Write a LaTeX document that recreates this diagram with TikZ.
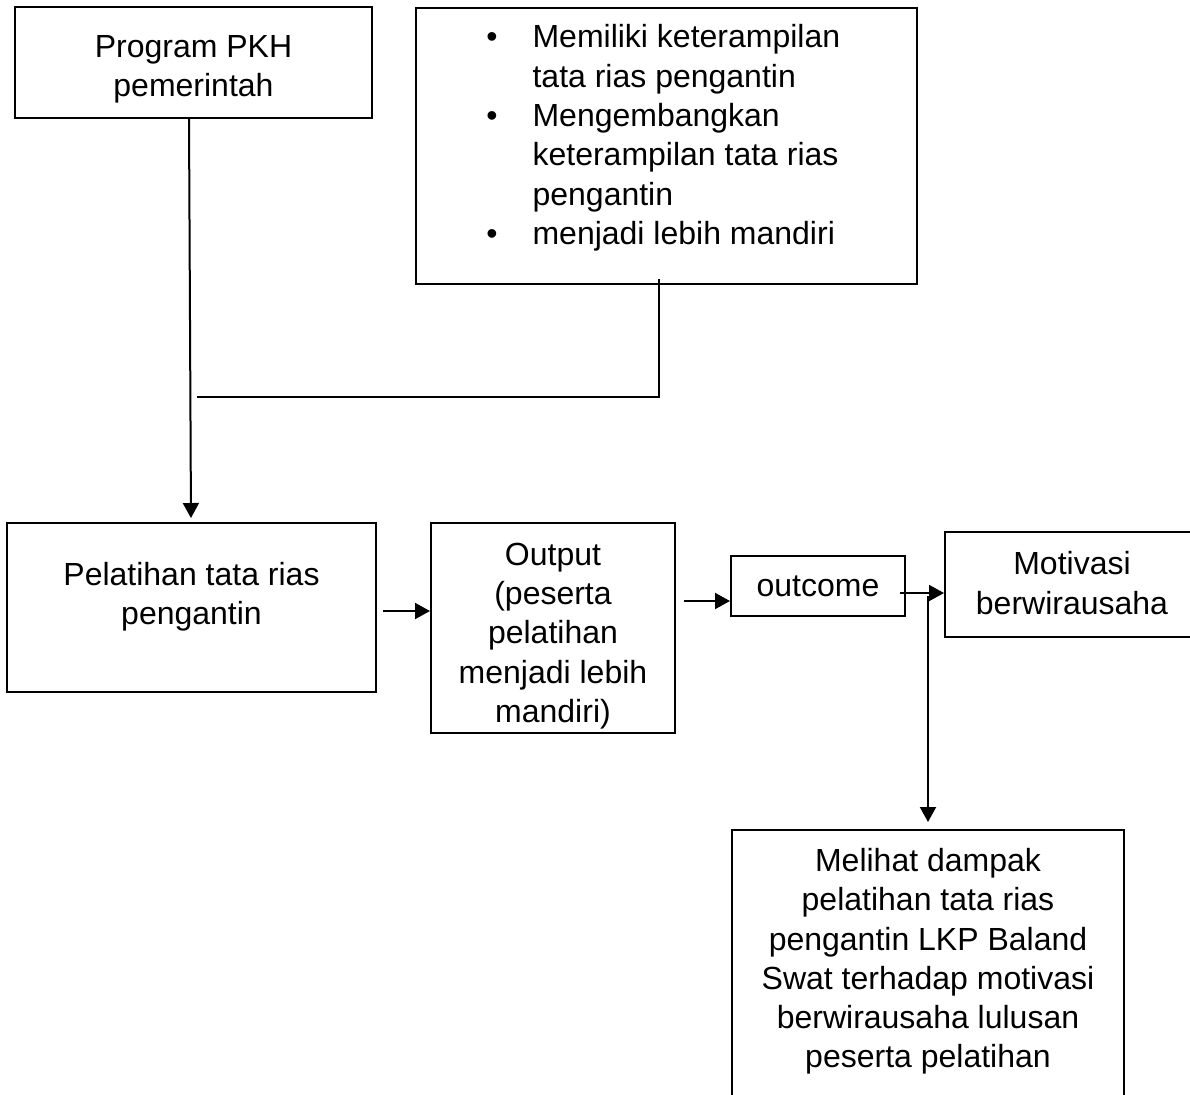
\documentclass[tikz,border=0pt]{standalone}
\usepackage{fontspec}
\setmainfont{Liberation Sans}
\usetikzlibrary{arrows.meta}

\begin{document}
\begin{tikzpicture}[x=0.5pt,y=-0.5pt]

        \tikzstyle{box}=[draw,rectangle,line width=1pt,inner sep=0pt]
        \tikzstyle{txt}=[align=center,inner sep=0pt,font=\fontsize{16}{19.65}\selectfont]
        \tikzstyle{conn}=[line width=1pt]
        \tikzstyle{arr}=[line width=1pt,-{Triangle[length=7.5pt,width=8pt]}]

        \useasboundingbox (0,0) rectangle (1190,1094);

        \node[box,minimum width=178.5pt,minimum height=55.5pt,
            label={[txt,yshift=-3.3pt]center:Program PKH\\pemerintah}] (prog) at (193.5,62.5) {};

        \node[box,minimum width=250.5pt,minimum height=138pt,
            label={[inner sep=0pt,font=\fontsize{16}{19.65}\selectfont,xshift=-1.6pt,yshift=3.85pt]center:\begin{tabular}{@{}c@{\hspace{17.5pt}}l@{}}
                \textbullet & Memiliki keterampilan\\
                 & tata rias pengantin\\
                \textbullet & Mengembangkan\\
                 & keterampilan tata rias\\
                 & pengantin\\
                \textbullet & menjadi lebih mandiri
            \end{tabular}}] (goal) at (666.5,146) {};

        \node[box,minimum width=184.5pt,minimum height=84.5pt,
            label={[txt,yshift=5.25pt]center:Pelatihan tata rias\\pengantin}] (train) at (191.5,607.5) {};

        \node[box,minimum width=122pt,minimum height=105pt,
            label={[txt,yshift=-4pt]center:Output\\(peserta\\pelatihan\\menjadi lebih\\mandiri)}] (out) at (553,628) {};

        \node[box,minimum width=87pt,minimum height=30pt,
            label={[txt]center:outcome}] (outc) at (818,586) {};

        \node[box,minimum width=130pt,minimum height=52.5pt,
            label={[txt,xshift=-1.5pt,yshift=0.75pt]center:Motivasi\\berwirausaha}] (motiv) at (1075,584.5) {};

        \node[box,minimum width=196pt,minimum height=140pt,
            label={[txt,yshift=4.3pt]center:Melihat dampak\\pelatihan tata rias\\pengantin LKP Baland\\Swat terhadap motivasi\\berwirausaha lulusan\\peserta pelatihan}] (impact) at (928,970) {};

        \coordinate (join) at (197,397);

        % connectors
        \draw[arr,shorten >=2pt] ([xshift=-2.25pt]prog.south) -- ([xshift=-0.25pt]train.north);
        \draw[conn] ([xshift=-3.75pt,yshift=3pt]goal.south) |- (join);

        \draw[arr,shorten <=3pt] ([yshift=-1.75pt]train.east) coordinate (from1) -- (from1 -| out.west);
        \path ([yshift=-7.5pt]outc.west) coordinate (to2);
        \draw[arr,shorten <=4pt] (to2 -| out.east) -- (to2);
        \draw[arr,shorten <=-3pt] ([yshift=-3.5pt]outc.east) coordinate (from3) -- (from3 -| motiv.west);
        \draw[arr,shorten <=1.5pt,shorten >=3.5pt] (impact.north |- from3) -- (impact.north);

\end{tikzpicture}
\end{document}
